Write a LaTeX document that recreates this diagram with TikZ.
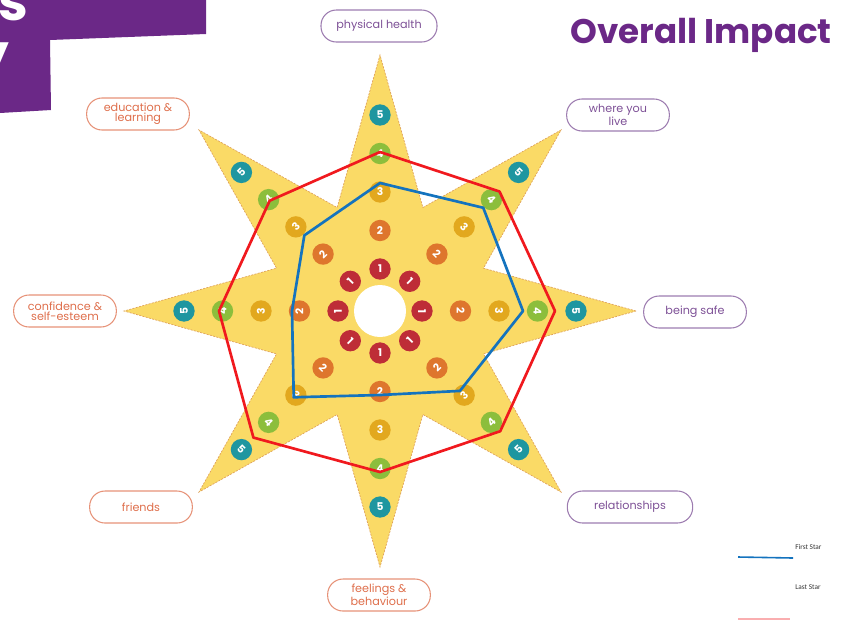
\documentclass[tikz,border=0pt]{standalone}
\usepackage{fontspec}
\setmainfont{Poppins}
\newfontfamily\legendfont{Carlito}
\usepackage{tikz}

\definecolor{starfill}{RGB}{250,218,102}
\definecolor{staredge}{RGB}{222,160,90}
\definecolor{levone}{RGB}{190,45,55}
\definecolor{levtwo}{RGB}{222,118,45}
\definecolor{levthree}{RGB}{226,168,30}
\definecolor{levfour}{RGB}{140,190,60}
\definecolor{levfive}{RGB}{30,150,160}
\definecolor{titlepurple}{RGB}{107,40,135}
\definecolor{areapurple}{RGB}{125,80,150}
\definecolor{areaorange}{RGB}{222,110,75}
\definecolor{firstblue}{RGB}{20,115,190}
\definecolor{lastred}{RGB}{240,25,30}

\tikzset{
  star/.style={fill=starfill, draw=staredge, line width=0.5pt, dash pattern=on 1.5pt off 1pt},
  dot/.style={circle, fill=#1, text=white, inner sep=0pt, minimum size=16pt, font=\bfseries\fontsize{8}{8}\selectfont},
  area/.style={draw=#1!75, text=#1, rounded corners=11.5pt, line width=0.8pt, minimum width=77pt, minimum height=24pt, inner sep=1pt, align=center, font=\fontsize{8.4}{7.4}\selectfont},
  firstline/.style={draw=firstblue, line width=2pt, line join=round},
  lastline/.style={draw=lastred, line width=2pt, line join=round},
  banner/.style={text=white, inner sep=0pt, font=\bfseries\fontsize{40}{40}\selectfont},
  legend/.style={inner sep=0pt, anchor=west, text=black!80, font=\legendfont\fontsize{5.5}{5.5}\selectfont}
}

\begin{document}
\begin{tikzpicture}[x=0.75pt,y=0.75pt,yscale=-1,xscale=1]
\clip (0,0) rectangle (855,619);
\useasboundingbox (0,0) rectangle (855,619);

% Banner
\fill[titlepurple] (0,0) -- (206,0) -- (206,34) -- (50,40) -- (51,110) -- (0,113) -- cycle;
\node[banner, anchor=base east] (bans) at (29,20) {s};
\node[banner, anchor=base east] (bany) at (9,72) {y};

% Title
\node[anchor=base west, inner sep=0pt, text=titlepurple, font=\bfseries\fontsize{25.6}{25.6}\selectfont] (title) at (570,43) {Overall Impact};

% Star
\coordinate (c) at (380,311);
\begin{scope}[shift={(c)}]
\draw[star] (0:256) \foreach \a in {0,45,...,315} { -- (-\a:256) -- (-\a-22.5:112) } -- cycle;
\fill[white] (0,0) circle (26);

% Level dots
\foreach \a in {0,45,...,315} {
  \pgfmathsetmacro\rot{\a<=180 ? \a-90 : \a+90}
  \foreach \k/\col in {1/levone,2/levtwo,3/levthree,4/levfour,5/levfive}
    \node[dot=\col, rotate=\rot] (d\a-\k) at (-\a:{42+38.5*(\k-1)}) {\k};
}

% Last Star
\draw[lastline] (0:175) -- (-45:169) -- (-90:159) -- (-135:156) -- (-180:161) -- (-225:179) -- (-270:161) -- (-315:170) -- cycle;
% First Star
\draw[firstline] (0:143) -- (-45:146) -- (-90:128) -- (-135:107) -- (-180:88) -- (-225:122) -- (-270:84) -- (-315:113) -- cycle;
\end{scope}

% Text Node
\node[area=areapurple, minimum width=87pt] (health) at (379,26) {physical health};
% Text Node
\node[area=areapurple] (live) at (618,115) {where you\\live};
% Text Node
\node[area=areapurple] (safe) at (695,312) {being safe};
% Text Node
\node[area=areapurple, minimum width=94pt] (relations) at (630,507) {relationships};
% Text Node
\node[area=areaorange] (feelings) at (379,595) {feelings \&\\behaviour};
% Text Node
\node[area=areaorange] (friends) at (141,507) {friends};
% Text Node
\node[area=areaorange] (confidence) at (65,311) {confidence \&\\self-esteem};
% Text Node
\node[area=areaorange] (education) at (138,114) {education \&\\learning};

% Legend
\coordinate (firsta) at (738,557);
\coordinate (firstb) at (793,558);
\draw[draw=firstblue, line width=1.2pt] (firsta) -- (firstb);
\node[legend] (firsttext) at (795,547) {First Star};
\node[legend] (lasttext) at (795,587) {Last Star};
\coordinate (lasta) at (738,619);
\coordinate (lastb) at (790,619);
\draw[draw=lastred!35, line width=1.5pt] (lasta) -- (lastb);

\end{tikzpicture}
\end{document}
